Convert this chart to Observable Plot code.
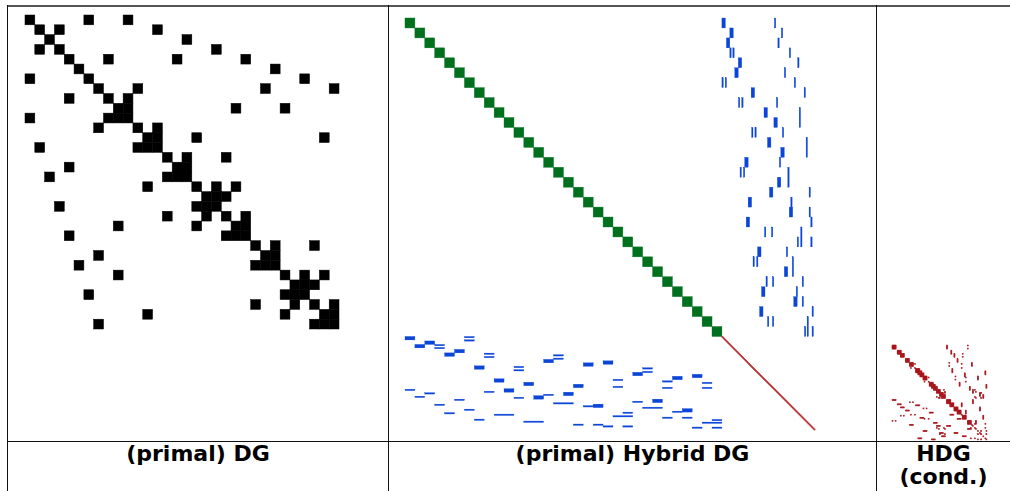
<!DOCTYPE html>
<html><head><meta charset="utf-8">
<script src="https://cdn.jsdelivr.net/npm/d3@7"></script>
<script src="https://cdn.jsdelivr.net/npm/@observablehq/plot@0.6"></script>
<style>
html,body{margin:0;padding:0;background:#fff;}
#wrap{position:relative;width:1010px;height:491px;overflow:hidden;font-family:"DejaVu Sans",sans-serif;}
.p{position:absolute;}
.ln{position:absolute;background:#111;z-index:5;}
.lab{position:absolute;text-align:center;font-weight:bold;font-size:22px;line-height:23px;z-index:6;color:#000;}
</style></head><body><div id="wrap"></div>
<script>
// ---------- Panel 1: (primal) DG, 32x32 element blocks ----------
const dgSize = 32;
// nonzero block columns for each block row
const dgRowCols = [
 [0,6,10],[1,3,13],[2,16],[1,3,19],[4,8,15,22],[5,25],[0,6,28],[7,11,24,31],
 [4,8,10],[9,10,21,26],[0,8,9,10],[7,11,13],[12,13,17,30],[1,11,12,13],[14,16,20],[4,15,16],
 [2,14,15,16],[12,17,19,21],[18,19,20],[3,17,18,19],[14,18,20,22],[9,17,21,22],[4,20,21,22],[23,25,29],
 [7,24,25],[5,23,24,25],[9,26,28,30],[27,28,29],[6,26,27,28],[23,27,29,31],[12,26,30,31],[7,29,30,31]
];

// ---------- Panel 2: (primal) Hybrid DG ----------
const hdgElemCount = 32;   // element blocks
const hdgElemDofs = 10;    // dofs per element block
const hdgTraceCount = 94;  // trace dofs
const thickLen = 3.5, thinLen = 1.4;
// thick coupling bars: [element, trace start]
const traceThick = [
 [0,0],[1,8],[2,4.5],[4,16.5],[5,13],[7,29.5],[9,42.5],[10,52.5],[12,46],[13,59.5],[14,23],
 [16,56],[17,48],[18,26.5],[19,68],[20,24.5],[23,36],[25,63],[27,40],[28,72.5],[29,38]
];
// thin coupling bars: [element, trace start]
const traceThin = [
 [0,53],[1,60],[2,56.5],[3,8],[3,11],[3,68],[4,76.5],[5,63],[6,0],[6,3.3],[6,73],[7,83],
 [8,16.7],[8,20],[8,55],[11,30],[11,33.3],[11,61],[14,58],[15,18.3],[15,21.7],[17,88],
 [18,69.5],[19,88],[20,89.7],[21,43],[21,50],[22,76],[22,89.7],[23,65],[24,31.4],[24,35],
 [26,44.5],[26,51],[26,81],[27,75],[28,81],[29,91],[30,46],[30,51],[31,83.3],[31,91]
];
// thin bars shared by two consecutive elements: [first element, trace start]
const traceTall = [[9,78],[12,85],[15,66.5],[21,79.5],[24,71],[30,86]];

const colGreen = "#00701f", colBlue = "#0b45d8", colRed = "#b0282a", colRedDark = "#a8141a";

const couplings = [
  ...traceThick.map(([e,s]) => ({e, span:1, s, len: thickLen, dofs: [0,1,2,3].map(k => Math.round(s)+k)})),
  ...traceThin.map(([e,s]) => ({e, span:1, s, len: thinLen, dofs: [Math.round(s)]})),
  ...traceTall.map(([e,s]) => ({e, span:2, s, len: thinLen, dofs: [Math.round(s)]}))
];
const elements = d3.range(hdgElemCount);
const traceDofs = d3.range(hdgTraceCount);
const N2 = hdgElemCount*hdgElemDofs + hdgTraceCount;
const t0 = hdgElemCount*hdgElemDofs;

// ---------- Panel 3: HDG condensed (trace x trace) ----------
const elemTrace = elements.map(() => new Set());
for (const c of couplings) for (let k = 0; k < c.span; k++) for (const d of c.dofs) elemTrace[c.e+k].add(d);
const condSet = new Set();
for (const s of elemTrace) for (const i of s) for (const j of s) condSet.add(i+","+j);
const condCells = [...condSet].map(k => k.split(",").map(Number));

function matrixPlot(n, w, h, marks) {
  return Plot.plot({
    width: w, height: h, margin: 0,
    x: {domain: [0, n], axis: null},
    y: {domain: [0, n], axis: null, reverse: true},
    style: {background: "transparent", overflow: "visible"},
    marks
  });
}

const wrap = document.getElementById("wrap");
function place(node, left, top) {
  const d = document.createElement("div");
  d.className = "p"; d.style.left = left + "px"; d.style.top = top + "px";
  d.appendChild(node); wrap.appendChild(d);
}

// panel 1
const dgCells = dgRowCols.flatMap((cols, r) => cols.map(c => ({r, c})));
place(matrixPlot(dgSize, 314, 314, [
  Plot.rect(dgCells, {x1: d => d.c, x2: d => d.c+1, y1: d => d.r, y2: d => d.r+1, fill: "#000", stroke: "#000", strokeWidth: 0.5})
]), 24.5, 15);

// panel 2
place(matrixPlot(N2, 410, 412, [
  Plot.rect(elements, {x1: e => e*hdgElemDofs, x2: e => (e+1)*hdgElemDofs, y1: e => e*hdgElemDofs, y2: e => (e+1)*hdgElemDofs, fill: colGreen, stroke: colGreen, strokeWidth: 0.4}),
  Plot.rect(traceDofs, {x1: i => t0+i, x2: i => t0+i+1, y1: i => t0+i, y2: i => t0+i+1, fill: colRed, stroke: colRed, strokeWidth: 0.7}),
  Plot.rect(couplings, {x1: c => t0+c.s, x2: c => t0+c.s+c.len, y1: c => c.e*hdgElemDofs, y2: c => (c.e+c.span)*hdgElemDofs, fill: colBlue, stroke: colBlue, strokeWidth: 0.3}),
  Plot.rect(couplings, {y1: c => t0+c.s, y2: c => t0+c.s+c.len, x1: c => c.e*hdgElemDofs, x2: c => (c.e+c.span)*hdgElemDofs, fill: colBlue, stroke: colBlue, strokeWidth: 0.3})
]), 405, 18);

// panel 3
place(matrixPlot(hdgTraceCount, 97, 97, [
  Plot.rect(condCells, {x1: d => d[1], x2: d => d[1]+1, y1: d => d[0], y2: d => d[0]+1, fill: colRedDark, stroke: colRedDark, strokeWidth: 0.5})
]), 892, 345);

// table lines
function line(l, t, w, h, col) {
  const d = document.createElement("div"); d.className = "ln";
  Object.assign(d.style, {left: l+"px", top: t+"px", width: w+"px", height: h+"px"});
  if (col) d.style.background = col;
  wrap.appendChild(d);
}
line(7, 5, 1003, 1.5, "#555");
line(7, 5, 1.2, 486);
line(387.5, 5, 1.2, 486);
line(876, 5, 1.2, 486);
line(7, 441, 1003, 1.2);

// labels
const labels = [["(primal) DG", 8, 388], ["(primal) Hybrid DG", 388, 877], ["HDG<br>(cond.)", 877, 1010]];
for (const [t, a, b] of labels) {
  const d = document.createElement("div"); d.className = "lab";
  Object.assign(d.style, {left: a+"px", width: (b-a)+"px", top: "442px"});
  d.innerHTML = t; wrap.appendChild(d);
}
</script></body></html>
